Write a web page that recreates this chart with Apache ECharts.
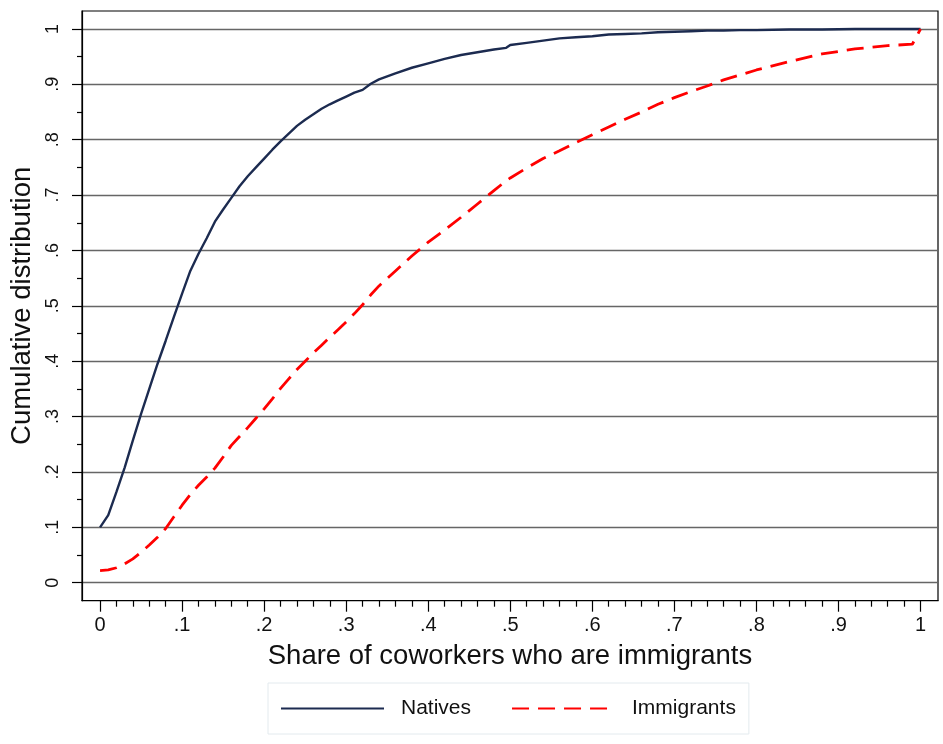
<!DOCTYPE html>
<html>
<head>
<meta charset="utf-8">
<script src="https://cdn.jsdelivr.net/npm/echarts@6/dist/echarts.min.js"></script>
<style>
  html, body { margin: 0; padding: 0; background: #fff; }
  #chart { width: 943px; height: 744px; }
</style>
</head>
<body>
<div id="chart"></div>
<script>
// Share of coworkers who are immigrants (x) at which each CDF is evaluated
const shares = [
  0, 0.01, 0.02, 0.03, 0.04, 0.05, 0.06, 0.07, 0.08, 0.09,
  0.10, 0.11, 0.12, 0.13, 0.14, 0.15, 0.16, 0.17, 0.18, 0.19,
  0.20, 0.21, 0.22, 0.23, 0.24, 0.25, 0.26, 0.27, 0.28, 0.29,
  0.30, 0.31, 0.32, 0.33, 0.34, 0.36, 0.38, 0.40, 0.42, 0.44,
  0.46, 0.48, 0.495, 0.50, 0.52, 0.54, 0.56, 0.58, 0.60, 0.62,
  0.64, 0.66, 0.68, 0.70, 0.72, 0.74, 0.76, 0.78, 0.80, 0.84,
  0.88, 0.92, 0.96, 0.99, 1.0
];

// Cumulative distribution for natives
const natives = [
  0.100, 0.122, 0.164, 0.208, 0.257, 0.305, 0.350, 0.395, 0.437, 0.480,
  0.522, 0.563, 0.594, 0.622, 0.652, 0.674, 0.695, 0.716, 0.734, 0.750,
  0.766, 0.782, 0.797, 0.811, 0.825, 0.836, 0.846, 0.856, 0.864, 0.871,
  0.878, 0.885, 0.890, 0.901, 0.909, 0.920, 0.930, 0.938, 0.946, 0.953,
  0.958, 0.963, 0.966, 0.971, 0.975, 0.979, 0.983, 0.985, 0.987, 0.990,
  0.991, 0.992, 0.994, 0.995, 0.996, 0.997, 0.997, 0.998, 0.998, 0.999,
  0.999, 1.000, 1.000, 1.000, 1.000
];

// Cumulative distribution for immigrants
const immigrants = [
  0.022, 0.023, 0.027, 0.034, 0.043, 0.055, 0.068, 0.082, 0.098, 0.119,
  0.140, 0.159, 0.176, 0.191, 0.207, 0.227, 0.248, 0.264, 0.280, 0.297,
  0.314, 0.332, 0.351, 0.368, 0.385, 0.400, 0.415, 0.429, 0.443, 0.457,
  0.471, 0.486, 0.502, 0.520, 0.536, 0.563, 0.590, 0.615, 0.637, 0.660,
  0.684, 0.708, 0.726, 0.731, 0.749, 0.766, 0.780, 0.795, 0.809, 0.823,
  0.837, 0.850, 0.864, 0.876, 0.887, 0.897, 0.908, 0.917, 0.926, 0.941,
  0.955, 0.964, 0.970, 0.9725, 1.000
];

// Tick positions
const majorTicks = [0, 0.1, 0.2, 0.3, 0.4, 0.5, 0.6, 0.7, 0.8, 0.9, 1];
const xMinorTicks = [0.02, 0.04, 0.06, 0.08, 0.12, 0.14, 0.16, 0.18, 0.22, 0.24, 0.26, 0.28,
  0.32, 0.34, 0.36, 0.38, 0.42, 0.44, 0.46, 0.48, 0.52, 0.54, 0.56, 0.58, 0.62, 0.64, 0.66, 0.68,
  0.72, 0.74, 0.76, 0.78, 0.82, 0.84, 0.86, 0.88, 0.92, 0.94, 0.96, 0.98];
const yMinorTicks = [0.05, 0.15, 0.25, 0.35, 0.45, 0.55, 0.65, 0.75, 0.85, 0.95];

const FONT = '"Liberation Sans", Arial, sans-serif';
const NAVY = '#1c2b50';
const RED = '#ff0000';

// Stata-style tick labels: 0, .1, .2, ..., 1
function fmt(v) {
  const r = Math.round(v * 10) / 10;
  if (r === 0) return '0';
  if (r === 1) return '1';
  return String(r).replace(/^0/, '');
}

const toPairs = ys => shares.map((x, i) => [x, ys[i]]);

const X_MIN = -0.022, X_MAX = 1.0213;
const Y_MIN = -0.0325, Y_MAX = 1.0325;

const chart = echarts.init(document.getElementById('chart'), null, { renderer: 'canvas' });

chart.setOption({
  animation: false,
  backgroundColor: '#ffffff',
  textStyle: { fontFamily: FONT },
  grid: {
    left: 82, right: 5, top: 11, bottom: 143.3,
    show: true, borderColor: '#000', borderWidth: 1.2, backgroundColor: 'transparent'
  },
  legend: {
    left: 268, top: 683,
    padding: [15, 13, 15, 12],
    borderColor: '#e3eaee', borderWidth: 1,
    itemWidth: 103, itemHeight: 14, itemGap: 40,
    itemStyle: { opacity: 0 },
    textStyle: { fontSize: 21, color: '#111', fontFamily: FONT, padding: [0, 0, 0, 12] },
    data: ['Natives', 'Immigrants']
  },
  xAxis: [
    {
      type: 'value', min: X_MIN, max: X_MAX,
      name: 'Share of coworkers who are immigrants',
      nameLocation: 'middle', nameGap: 42,
      nameTextStyle: { fontSize: 27.5, color: '#111', fontFamily: FONT },
      axisLine: { show: true, onZero: false, lineStyle: { color: '#000', width: 1.2 } },
      axisTick: { show: true, customValues: majorTicks, length: 11, lineStyle: { color: '#000', width: 1.2 } },
      axisLabel: { customValues: majorTicks, formatter: fmt, fontSize: 20, color: '#111', margin: 15, fontFamily: FONT },
      splitLine: { show: false }
    },
    {
      type: 'value', min: X_MIN, max: X_MAX, position: 'bottom',
      axisLine: { show: false, onZero: false },
      axisTick: { show: true, customValues: xMinorTicks, length: 6, lineStyle: { color: '#000', width: 1.2 } },
      axisLabel: { show: false },
      splitLine: { show: false }
    }
  ],
  yAxis: [
    {
      type: 'value', min: Y_MIN, max: Y_MAX,
      name: 'Cumulative distribution',
      nameLocation: 'middle', nameGap: 41,
      nameTextStyle: { fontSize: 27.5, color: '#111', fontFamily: FONT },
      axisLine: { show: true, onZero: false, lineStyle: { color: '#000', width: 1.2 } },
      axisTick: { show: true, customValues: majorTicks, length: 10, lineStyle: { color: '#000', width: 1.2 } },
      axisLabel: { customValues: majorTicks, formatter: fmt, rotate: 90, fontSize: 18, color: '#111', margin: 20, fontFamily: FONT },
      splitLine: { show: true, lineStyle: { color: '#666666', width: 1.3 } }
    },
    {
      type: 'value', min: Y_MIN, max: Y_MAX, position: 'left',
      axisLine: { show: false, onZero: false },
      axisTick: { show: true, customValues: yMinorTicks, length: 5, lineStyle: { color: '#000', width: 1.2 } },
      axisLabel: { show: false },
      splitLine: { show: false }
    }
  ],
  series: [
    {
      name: 'Natives', type: 'line', xAxisIndex: 0, yAxisIndex: 0,
      data: toPairs(natives), showSymbol: false, symbol: 'none',
      lineStyle: { color: NAVY, width: 2.4 }, itemStyle: { color: NAVY }
    },
    {
      name: 'Immigrants', type: 'line', xAxisIndex: 0, yAxisIndex: 0,
      data: toPairs(immigrants), showSymbol: false, symbol: 'none',
      lineStyle: { color: RED, width: 2.8, type: [17, 9] }, itemStyle: { color: RED }
    }
  ]
});
</script>
</body>
</html>
